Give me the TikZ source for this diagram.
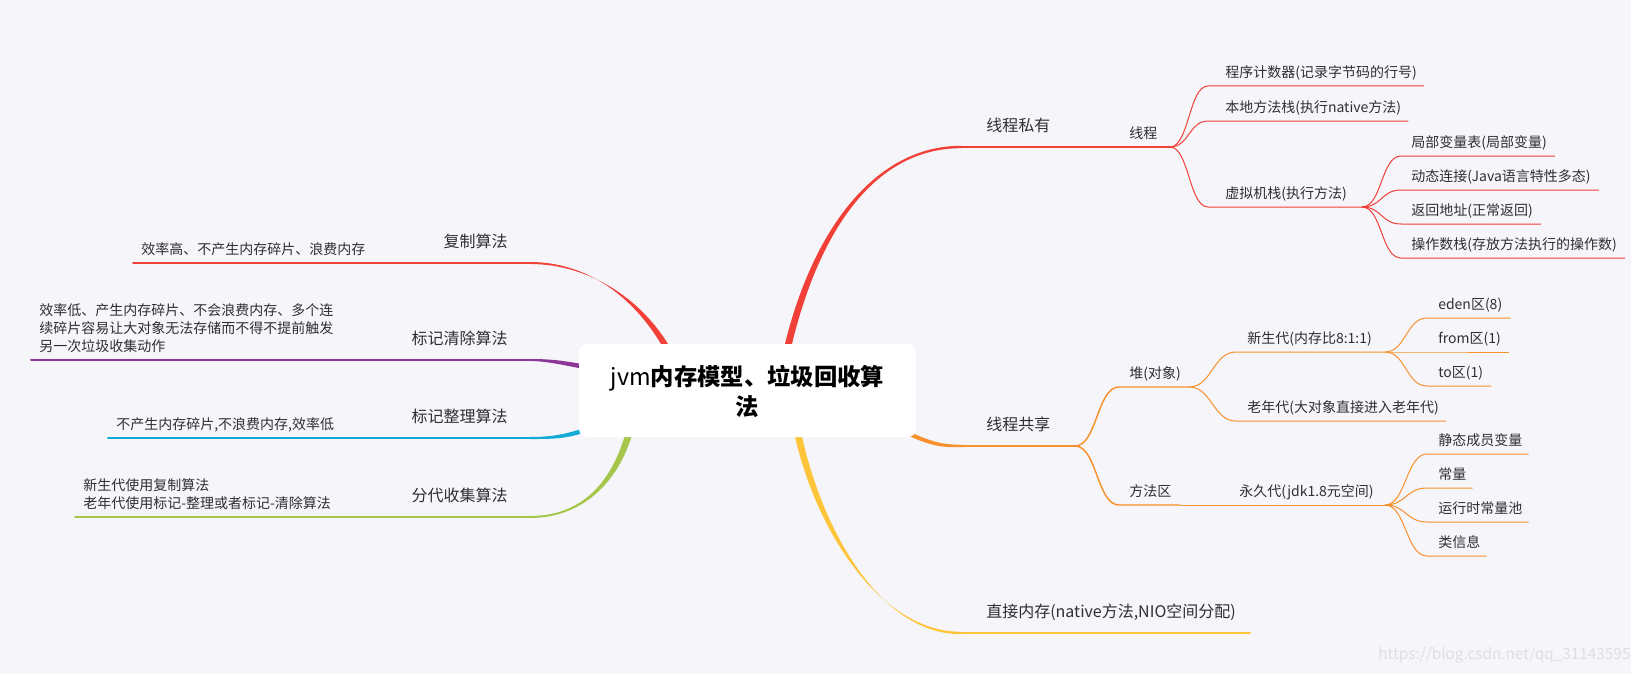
\documentclass[tikz,border=0pt]{standalone}
\usepackage{fontspec}
\setmainfont{Noto Sans CJK SC}
\usetikzlibrary{calc}

\definecolor{bgc}{HTML}{F5F5FA}
\definecolor{txtc}{HTML}{2E2E33}
\definecolor{wmc}{HTML}{DEDEE5}
\definecolor{redc}{HTML}{F04037}
\definecolor{orgc}{HTML}{F7912C}
\definecolor{ylwc}{HTML}{FEC53A}
\definecolor{purc}{HTML}{8C3798}
\definecolor{cync}{HTML}{14AAD6}
\definecolor{grnc}{HTML}{A5C64A}

% tapered branch: colour, start, control 1, control 2, end, half width at start, half width at end
\newcommand{\taper}[7]{%
  \fill[#1] ($(#2)+(#6)$) .. controls ($(#3)+(#6)$) and ($(#4)+(#7)$) .. ($(#5)+(#7)$)
    -- ($(#5)-(#7)$) .. controls ($(#4)-(#7)$) and ($(#3)-(#6)$) .. ($(#2)-(#6)$) -- cycle;}

\begin{document}
\begin{tikzpicture}[
	x=0.75pt, y=-0.75pt,
	every node/.style={text=txtc, inner xsep=0pt, text depth=0pt},
	root/.style={fill=white, rounded corners=6pt, inner sep=0pt, minimum width=252.75pt,
		minimum height=69.75pt, align=center, text=black, font=\fontsize{17.5}{22.5}\selectfont},
	topic/.style={font=\fontsize{12}{14}\selectfont, inner ysep=11.25pt},
	sub/.style={font=\fontsize{10.5}{13.5}\selectfont, inner ysep=6pt, anchor=south west},
	mainline/.style={line width=1.8pt, line cap=round},
	leftline/.style={line width=1.5pt, line cap=round},
	midline/.style={line width=1.1pt},
	subline/.style={line width=0.75pt}
	]
	
	\fill[bgc] (0,0) rectangle (1631,674);
	
	% branches out of the root
	\coordinate (priS) at (961,147);
	\coordinate (shrS) at (965,446);
	\coordinate (dirS) at (961,633);
	\coordinate (cpS) at (530,263);
	\coordinate (msS) at (530,360);
	\coordinate (mzS) at (530,438);
	\coordinate (fdS) at (530,517);
	\taper{redc}{787,350}{815,230}{875,147}{priS}{3.5,0}{0,1.2}
	\taper{orgc}{905,432}{935,446}{945,446}{shrS}{0,2.2}{0,1.2}
	\taper{ylwc}{797,430}{818,530}{880,633}{dirS}{3.5,0}{0,1.2}
	\taper{redc}{668,350}{640,300}{590,263}{cpS}{3.5,0}{0,1}
	\taper{purc}{585,367}{560,362}{545,360}{msS}{0,2.3}{0,1}
	\taper{cync}{585,430}{565,437}{550,438}{mzS}{0,2.3}{0,1}
	\taper{grnc}{630,430}{615,485}{580,517}{fdS}{3.5,0}{0,1}
	
	\node[root] (root) at (747.5,390.5) {jvm\textbf{内存模型、垃圾回收算}\\\textbf{法}};
	
	% 线程私有
	\node[topic, anchor=south west] (pri) at (986,147) {线程私有};
	\node[sub] (thr) at (1129,147) {线程};
	\coordinate (thrb) at (1170,147);
	\draw[redc, mainline] (priS) -- (thrb);
	\node[sub] (pc) at (1225,86) {程序计数器(记录字节码的行号)};
	\node[sub] (nat) at (1225,121) {本地方法栈(执行native方法)};
	\node[sub] (vms) at (1225,207) {虚拟机栈(执行方法)};
	\coordinate (vmsb) at (1362,207);
	\foreach \n in {pc,nat}
	\draw[redc, subline] (thrb) .. controls +(19,0) and +(-19,0) .. ($(\n.south west)+(-17,0)$) -- ($(\n.south east)+(7,0)$);
	\draw[redc, subline] (thrb) .. controls +(19,0) and +(-19,0) .. ($(vms.south west)+(-17,0)$) -- (vmsb);
	\node[sub] (lvt) at (1411,156) {局部变量表(局部变量)};
	\node[sub] (dyn) at (1411,190) {动态连接(Java语言特性多态)};
	\node[sub] (ret) at (1411,224) {返回地址(正常返回)};
	\node[sub] (ops) at (1411,258) {操作数栈(存放方法执行的操作数)};
	\foreach \n in {lvt,dyn,ret,ops}
	\draw[redc, subline] (vmsb) .. controls +(20,0) and +(-20,0) .. ($(\n.south west)+(-10,0)$) -- ($(\n.south east)+(8,0)$);
	
	% 线程共享
	\node[topic, anchor=south west] (shr) at (986,446) {线程共享};
	\coordinate (shrb) at (1075,446);
	\draw[orgc, mainline] (shrS) -- (shrb);
	\node[sub] (heap) at (1129,387) {堆(对象)};
	\node[sub] (mth) at (1129,505) {方法区};
	\coordinate (heapb) at (1189,387);
	\coordinate (permb) at (1385,505);
	\draw[orgc, midline] (shrb) .. controls +(22,0) and +(-22,0) .. ($(heap.south west)+(-10,0)$) -- (heapb);
	\draw[orgc, midline] (shrb) .. controls +(22,0) and +(-22,0) .. ($(mth.south west)+(-10,0)$) -- ($(mth.south east)+(9,0)$);
	\node[sub] (perm) at (1239,505) {永久代(jdk1.8元空间)};
	\draw[orgc, subline] ($(mth.south east)+(9,0)$) -- (permb);
	\node[sub] (yg) at (1247,352) {新生代(内存比8:1:1)};
	\node[sub] (old) at (1247,421) {老年代(大对象直接进入老年代)};
	\coordinate (ygb) at (1385,352);
	\draw[orgc, subline] (heapb) .. controls +(23,0) and +(-23,0) .. ($(yg.south west)+(-11,0)$) -- (ygb);
	\draw[orgc, subline] (heapb) .. controls +(23,0) and +(-23,0) .. ($(old.south west)+(-11,0)$) -- ($(old.south east)+(7,0)$);
	\node[sub] (yeden) at (1438,318) {eden区(8)};
	\node[sub] (yfrom) at (1438,352) {from区(1)};
	\node[sub] (yto) at (1438,386) {to区(1)};
	\foreach \n in {yeden,yfrom,yto}
	\draw[orgc, subline] (ygb) .. controls +(21,0) and +(-21,0) .. ($(\n.south west)+(-11,0)$) -- ($(\n.south east)+(8,0)$);
	\node[sub] (pstat) at (1438,454) {静态成员变量};
	\node[sub] (pconst) at (1438,488) {常量};
	\node[sub] (ppool) at (1438,522) {运行时常量池};
	\node[sub] (pclass) at (1438,556) {类信息};
	\foreach \n in {pstat,pconst,ppool,pclass}
	\draw[orgc, subline] (permb) .. controls +(21,0) and +(-21,0) .. ($(\n.south west)+(-11,0)$) -- ($(\n.south east)+(6,0)$);
	
	% 直接内存
	\node[topic, anchor=south west] (dir) at (986,633) {直接内存(native方法,NIO空间分配)};
	\draw[ylwc, mainline] (dirS) -- ($(dir.south east)+(14,0)$);
	
	% left side
	\node[topic, anchor=south east] (cp) at (508,263) {复制算法};
	\node[sub] (cpn) at (141,263) {效率高、不产生内存碎片、浪费内存};
	\draw[redc, leftline] (cpS) -- ($(cpn.south west)+(-8,0)$);
	
	\node[topic, anchor=south east] (ms) at (508,360) {标记清除算法};
	\node[sub, align=left] (msn) at (39,360) {效率低、产生内存碎片、不会浪费内存、多个连\\续碎片容易让大对象无法存储而不得不提前触发\\另一次垃圾收集动作};
	\draw[purc, leftline] (msS) -- ($(msn.south west)+(-8,0)$);
	
	\node[topic, anchor=south east] (mz) at (508,438) {标记整理算法};
	\node[sub] (mzn) at (116,438) {不产生内存碎片,不浪费内存,效率低};
	\draw[cync, leftline] (mzS) -- ($(mzn.south west)+(-8,0)$);
	
	\node[topic, anchor=south east] (fd) at (508,517) {分代收集算法};
	\node[sub, align=left] (fdn) at (83,517) {新生代使用复制算法\\老年代使用标记-整理或者标记-清除算法};
	\draw[grnc, leftline] (fdS) -- ($(fdn.south west)+(-8,0)$);
	
	\node[font=\fontsize{11.5}{13}\selectfont, text=wmc, anchor=west] (wm) at (1378,653) {https://blog.csdn.net/qq\_31143595};
	
\end{tikzpicture}
\end{document}
